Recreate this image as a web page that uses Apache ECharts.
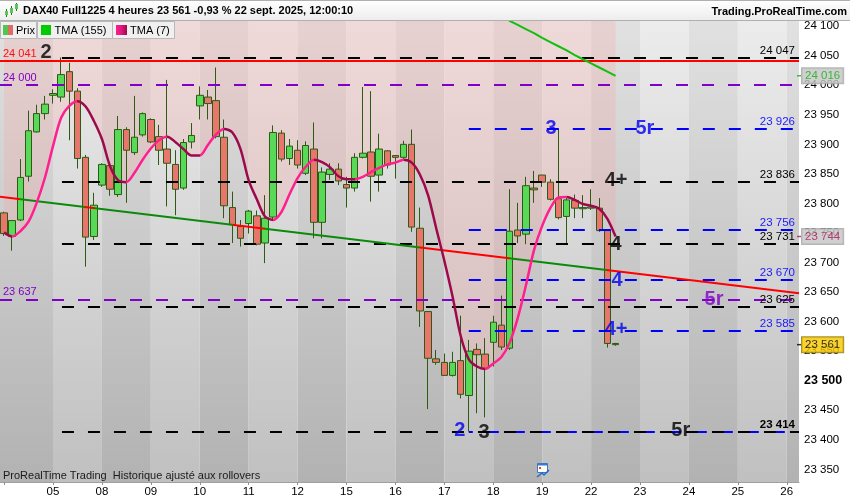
<!DOCTYPE html>
<html><head><meta charset="utf-8">
<script src="https://cdn.jsdelivr.net/npm/echarts@6/dist/echarts.min.js"></script>
<style>html,body{margin:0;padding:0;background:#fff}#c{width:850px;height:500px}</style>
</head><body><div id="c"></div><script>
// ---------- data ----------
const days = ['04','05','08','09','10','11','12','15','16','17','18','19','22','23','24','25','26'];
const hours = ['00','04','08','12','16','20'];
const slotCount = 98;
const opens  = [23784,23744,23772,23846,23921,23952,23983,23980,24023,23990,23878,23744,23831,23864,23815,23925,23886,23916,23942,23913,23892,23866,23826,23904,23965,23980,23974,23912,23793,23761,23766,23779,23733,23777,23919,23876,23890,23851,23892,23768,23849,23858,23832,23826,23878,23887,23848,23889,23881,23878,23900,23758,23617,23537,23531,23509,23534,23475,23553,23545,23565,23594,23555,23755,23748,23826,23848,23836,23808,23778,23805,23793,23792,23792,23754,23563];
const closes = [23749,23771,23844,23923,23952,23968,23986,24018,23990,23876,23743,23797,23866,23824,23925,23890,23912,23952,23904,23890,23868,23824,23903,23915,23983,23969,23913,23796,23764,23741,23787,23731,23775,23920,23875,23897,23865,23898,23768,23853,23858,23838,23826,23878,23885,23846,23892,23865,23878,23900,23760,23618,23538,23531,23509,23531,23477,23550,23544,23521,23599,23557,23753,23745,23830,23823,23836,23807,23776,23806,23792,23791,23794,23754,23563,23561];
const lows   = [23745,23720,23770,23837,23920,23942,23969,23972,23907,23859,23693,23738,23828,23813,23811,23801,23882,23913,23902,23865,23795,23780,23823,23893,23942,23942,23910,23775,23733,23727,23749,23729,23699,23772,23871,23865,23859,23848,23741,23741,23840,23831,23793,23820,23876,23803,23820,23859,23842,23874,23752,23591,23452,23527,23508,23507,23470,23414,23445,23438,23524,23552,23552,23733,23731,23801,23828,23805,23773,23731,23775,23775,23789,23752,23556,23559];
const highs  = [23786,23772,23875,23957,23967,23982,23993,24047,24038,23995,23882,23818,23868,23868,23948,23929,23982,23954,23944,23933,24009,23890,23909,23936,23998,23992,24030,23942,23820,23772,23789,23788,23814,23932,23924,23909,23907,23905,23937,23861,23868,23868,23845,23885,23997,23990,23918,23890,23882,23906,23925,23793,23618,23552,23546,23549,23610,23569,23563,23572,23610,23644,23824,23801,23845,23855,23848,23841,23926,23811,23815,23814,23824,23809,23755,23564];
const tma7   = [23751,23744,23753,23769,23801,23843,23897,23945,23965,23973,23964,23940,23909,23863,23839,23836,23852,23874,23893,23907,23913,23904,23892,23881,23881,23899,23917,23926,23920,23892,23839,23807,23778,23772,23785,23815,23843,23862,23874,23870,23861,23846,23841,23841,23845,23853,23860,23866,23869,23874,23869,23849,23814,23758,23703,23643,23576,23536,23524,23520,23529,23540,23564,23606,23661,23721,23762,23792,23810,23811,23806,23799,23796,23791,23774,23744];
const tma155 = Array(61).fill(null).concat([24125,24109,24102,24095,24088,24080,24073,24066,24059,24051,24044,24037,24030,24023,24016]);
// drawn trend line (two anchor points in slot units)
const trendLine = [[-0.5, 23811.4], [97.5, 23647.9]];
// slot ranges where the trend line is drawn red (price below it)
const trendRedRanges = [[-1, 1.95], [9.9, 11.15], [28.1, 32], [51, 62.05], [73.95, 99]];
// slot ranges where TMA(7) is falling
const tmaFallRanges = [[-1, 1], [9, 15], [20, 23.5], [27, 33], [38, 43], [49, 59], [69, 99]];
// horizontal levels
const levels = [
  {v:23414, kind:'blue',   from:57,   side:'none'},
  {v:24047, kind:'black',  from:7.1,  side:'right'},
  {v:24041, kind:'red',    from:-0.5, side:'left'},
  {v:24000, kind:'purple', from:-0.5, side:'left'},
  {v:23926, kind:'blue',   from:57,   side:'right'},
  {v:23836, kind:'black',  from:7.1,  side:'right'},
  {v:23756, kind:'blue',   from:57,   side:'right'},
  {v:23731, kind:'black',  from:7.1,  side:'right'},
  {v:23670, kind:'blue',   from:57,   side:'right'},
  {v:23637, kind:'purple', from:-0.5, side:'left'},
  {v:23625, kind:'black',  from:7.1,  side:'right'},
  {v:23585, kind:'blue',   from:57,   side:'right'},
  {v:23414, kind:'black',  from:7.1,  side:'right', bold:true}
];
const waveLabels = [
  {x:5.14, v:24055, t:'2', kind:'black'},
  {x:67.08, v:23926, t:'3', kind:'blue'},
  {x:78.6, v:23926, t:'5r', kind:'blue'},
  {x:75.06, v:23838, t:'4+', kind:'black'},
  {x:75.06, v:23731, t:'4', kind:'black'},
  {x:75.18, v:23669, t:'4', kind:'blue'},
  {x:87.07, v:23638, t:'5r', kind:'purple'},
  {x:75.06, v:23587, t:'4+', kind:'blue'},
  {x:55.9, v:23416, t:'2', kind:'blue'},
  {x:58.86, v:23412, t:'3', kind:'black'},
  {x:83.0, v:23416, t:'5r', kind:'black'}
];
const yTicks = [23350,23400,23450,23500,23550,23600,23650,23700,23750,23800,23850,23900,23950,24000,24050,24100];

// ---------- build ----------
const FONT = 'Liberation Sans, Arial, sans-serif';
const fmt = v => String(Math.round(v)).replace(/\B(?=(\d{3})+(?!\d))/g, ' ');
const categories = [];
days.forEach(d => hours.forEach(h => categories.push(d + ' ' + h + ':00')));
categories.length = slotCount;
const candleData = opens.map((o, i) => [o, closes[i], lows[i], highs[i]]);
const last = opens.length - 1;

const COLORS = {black:'#000000', blue:'#0000ff', purple:'#8000c8', red:'#ff0000'};
const LABEL_COLORS = {black:'#000000', blue:'#0000f0', purple:'#8000c8', red:'#ff1010'};
const vGrad = (a, b) => ({type:'linear', x:0, y:0, x2:0, y2:1, colorStops:[{offset:0, color:a},{offset:1, color:b}]});
const darkBand = vGrad('#e1e1e1', '#b2b2b2');
const lightBand = vGrad('#ececec', '#c0c0c0');

const bandAreas = days.map((d, i) => {
  const start = i === 0 ? -0.5 : i * 6;
  const end = i === days.length - 1 ? slotCount - 0.5 : i * 6 + 6;
  return [{xAxis:start, itemStyle:{color: i % 2 ? lightBand : darkBand}}, {xAxis:end}];
});

const levelLines = levels.map(L => {
  const first = {
    coord:[L.from, L.v],
    lineStyle:{color:COLORS[L.kind], width:2, type: L.kind === 'red' ? 'solid' : [12, 14], dashOffset: L.kind === 'blue' && L.v === 23414 ? 8 : 0},
    label:{show: L.side !== 'none'}
  };
  if (L.side === 'right') {
    Object.assign(first.label, {position:'insideEndTop', formatter: fmt(L.v), color: L.kind === 'blue' ? '#1a1aff' : LABEL_COLORS[L.kind],
      fontSize:11.5, fontFamily:FONT, fontWeight: L.bold ? 'bold' : 'normal', distance:[4, 1]});
  } else if (L.side === 'left') {
    Object.assign(first.label, {position:'insideStartTop', formatter: fmt(L.v), color: LABEL_COLORS[L.kind],
      fontSize:11, fontFamily:FONT, distance:[3, 2]});
  }
  return [first, {coord:[slotCount - 0.5, L.v]}];
});

const piecesFrom = (ranges, inColor, outColor) => {
  const p = [];
  let cur = -1;
  ranges.forEach(r => {
    if (r[0] > cur) p.push({gte:cur, lt:r[0], color:outColor});
    p.push({gte:r[0], lt:r[1], color:inColor});
    cur = r[1];
  });
  p.push({gte:cur, lt:1000, color:outColor});
  return p;
};

// last values shown in boxes on the price scale
const lastValues = [
  {v: tma155[last], color:'#10b010', bg:'#c4c4c4', border:'#a4a4a4'},
  {v: tma7[last],   color:'#b0145a', bg:'#c4c4c4', border:'#a4a4a4'},
  {v: closes[last], color:'#000000', bg:'#f7c800', border:'#8a7400'}
];

const option = {
  animation:false,
  backgroundColor:'#ffffff',
  grid:{left:0, right:51, top:21, bottom:18, containLabel:false},
  xAxis:[{
    type:'category', data:categories, boundaryGap:true,
    axisLine:{show:true, lineStyle:{color:'#a0a0a0'}},
    axisTick:{show:true, alignWithLabel:true, interval:(i)=> i % 6 === 0, length:3, lineStyle:{color:'#909090'}},
    axisLabel:{interval:(i)=> i > 0 && i % 6 === 0, formatter:(v)=> v.slice(0,2), color:'#000', fontSize:11.5, fontFamily:FONT, margin:4},
    splitLine:{show:false}
  },{
    type:'value', min:-0.5, max:slotCount - 0.5, show:false
  }],
  yAxis:{
    type:'value', position:'right', min:23328.6, max:24108.7,
    axisLine:{show:true, lineStyle:{color:'#a0a0a0'}},
    axisTick:{show:true, length:4, customValues:yTicks, lineStyle:{color:'#808080'}},
    axisLabel:{customValues:yTicks, color:'#000', fontSize:11.5, fontFamily:FONT, margin:5,
      formatter:(v)=> v === 23500 ? '{b|' + fmt(v) + '}' : fmt(v),
      rich:{b:{fontWeight:'bold', fontSize:12.5, color:'#000', fontFamily:FONT}}},
    splitLine:{show:false}
  },
  visualMap:[
    {type:'piecewise', show:false, seriesIndex:3, dimension:0, pieces: piecesFrom(trendRedRanges, '#ff0000', '#0a8a0a')},
    {type:'piecewise', show:false, seriesIndex:4, dimension:0, pieces: piecesFrom(tmaFallRanges, '#9c0a4c', '#ff1f8e')}
  ],
  series:[
    { // 0: helper for background bands and level lines
      type:'line', xAxisIndex:1, data:[[-5, 0]], symbol:'none', lineStyle:{width:0}, z:1, silent:true,
      markArea:{silent:true, z:1, data:bandAreas},
      markLine:{silent:true, z:6, symbol:['none','none'], data:levelLines}
    },
    { // 1: TMA(7) area (pink fill above the curve)
      type:'line', data:tma7, symbol:'none', smooth:0.3, z:2, silent:true,
      lineStyle:{width:0, opacity:0},
      areaStyle:{origin:'end', color:'rgba(255,150,150,0.32)'}
    },
    { // 2: candles
      type:'candlestick', name:'Prix', data:candleData, barWidth:7, z:3,
      itemStyle:{color:'#58da58', color0:'#e8766c', borderColor:'#2e5a14', borderColor0:'#2e5a14', borderWidth:1}
    },
    { // 3: trend line
      type:'line', xAxisIndex:1, data:trendLine, symbol:'none', z:6, silent:true,
      lineStyle:{width:2}
    },
    { // 4: TMA(7) line
      type:'line', name:'TMA (7)', data:tma7, symbol:'none', smooth:0.3, z:7,
      lineStyle:{width:2.5}
    },
    { // 5: TMA(155)
      type:'line', name:'TMA (155)', data:tma155, symbol:'none', z:7, connectNulls:false,
      lineStyle:{width:2, color:'#10c010'}, itemStyle:{color:'#10c010'}
    },
    { // 6: wave labels
      type:'scatter', xAxisIndex:1, symbol:'circle', symbolSize:1, z:9, silent:true,
      itemStyle:{color:'rgba(0,0,0,0)'},
      data: waveLabels.map(w => ({value:[w.x, w.v], label:{show:true, position:'inside', formatter:w.t,
        color: LABEL_COLORS[w.kind], fontSize:20, fontWeight:'bold', fontFamily:FONT}}))
    },
    { // 7: last-value boxes on the price scale (anchored at the right edge of the plot)
      type:'scatter', xAxisIndex:1, symbol:'rect', symbolSize:[4, 1.5], z:9, silent:true, clip:false,
      data: lastValues.map(L => ({
        value:[slotCount - 0.5, L.v],
        itemStyle:{color:L.color},
        label:{show:true, position:'right', distance:1, formatter: fmt(L.v), color:L.color, backgroundColor:L.bg,
          borderColor:L.border, borderWidth:1, padding:[2,3,1,3], fontSize:11.5, fontFamily:FONT}
      }))
    }
  ],
  graphic:[
    {type:'rect', z:100, shape:{x:0, y:0, width:850, height:20}, style:{fill: vGrad('#ffffff', '#ededed'), stroke:null}},
    {type:'line', z:101, shape:{x1:0, y1:0.5, x2:850, y2:0.5}, style:{stroke:'#b0b0b0', lineWidth:1}},
    {type:'line', z:101, shape:{x1:0, y1:20.5, x2:850, y2:20.5}, style:{stroke:'#b0b0b0', lineWidth:1}},
    // header icon
    {type:'line', z:101, shape:{x1:6.5, y1:9, x2:6.5, y2:17}, style:{stroke:'#3a6a1a', lineWidth:1}},
    {type:'rect', z:102, shape:{x:5, y:11, width:3, height:4}, style:{fill:'#56c856'}},
    {type:'line', z:101, shape:{x1:11.5, y1:6, x2:11.5, y2:15}, style:{stroke:'#3a6a1a', lineWidth:1}},
    {type:'rect', z:102, shape:{x:10, y:8, width:3, height:5}, style:{fill:'#56c856'}},
    {type:'line', z:101, shape:{x1:16.5, y1:3, x2:16.5, y2:11}, style:{stroke:'#3a6a1a', lineWidth:1}},
    {type:'rect', z:102, shape:{x:15, y:4, width:3, height:5}, style:{fill:'#56c856'}},
    {type:'text', z:102, x:23, y:11, style:{text:'DAX40 Full1225 4 heures 23 561 -0,93 % 22 sept. 2025, 12:00:10', fill:'#000',
      font:'bold 11px ' + FONT, textVerticalAlign:'middle', textAlign:'left'}},
    {type:'text', z:102, x:847, y:12, style:{text:'Trading.ProRealTime.com', fill:'#000',
      font:'bold 11px ' + FONT, textVerticalAlign:'middle', textAlign:'right'}},
    // legend boxes
    {type:'rect', z:100, shape:{x:0.5, y:21.5, width:36, height:17}, style:{fill:'#f0f0f0', stroke:'#b8b8b8'}},
    {type:'rect', z:101, shape:{x:3, y:25, width:5, height:10}, style:{fill:'#50c850'}},
    {type:'rect', z:101, shape:{x:8, y:25, width:5, height:10}, style:{fill:'#e06a66'}},
    {type:'text', z:101, x:16, y:30.5, style:{text:'Prix', fill:'#000', font:'11px ' + FONT, textVerticalAlign:'middle'}},
    {type:'rect', z:100, shape:{x:37.5, y:21.5, width:75, height:17}, style:{fill:'#f0f0f0', stroke:'#b8b8b8'}},
    {type:'rect', z:101, shape:{x:41, y:25, width:10, height:10}, style:{fill:'#00cc00'}},
    {type:'text', z:101, x:54.5, y:30.5, style:{text:'TMA (155)', fill:'#000', font:'11px ' + FONT, textVerticalAlign:'middle'}},
    {type:'rect', z:100, shape:{x:112.5, y:21.5, width:62, height:17}, style:{fill:'#f0f0f0', stroke:'#b8b8b8'}},
    {type:'rect', z:101, shape:{x:116, y:25, width:11, height:10}, style:{fill:{type:'linear', x:0, y:0, x2:1, y2:0,
      colorStops:[{offset:0, color:'#ff1f8e'},{offset:0.5, color:'#e0187a'},{offset:1, color:'#9c0a4c'}]}}},
    {type:'text', z:101, x:130, y:30.5, style:{text:'TMA (7)', fill:'#000', font:'11px ' + FONT, textVerticalAlign:'middle'}},
    // footer
    {type:'text', z:100, x:3, y:476, style:{text:'ProRealTime Trading  Historique ajusté aux rollovers', fill:'#1a1a1a',
      font:'11px ' + FONT, textVerticalAlign:'middle'}},
    // calendar icon
    {type:'rect', z:100, shape:{x:537.5, y:463.5, width:10, height:9}, style:{fill:'#ffffff', stroke:'#3a78c8', lineWidth:1}},
    {type:'rect', z:101, shape:{x:537.5, y:463.5, width:10, height:2}, style:{fill:'#3a78c8'}},
    {type:'rect', z:101, shape:{x:539, y:467, width:2, height:2}, style:{fill:'#e04040'}},
    {type:'polyline', z:101, shape:{points:[[537,477],[542,473],[544,475],[549,470]]}, style:{stroke:'#2a68c8', lineWidth:1.5, fill:null}}
  ]
};
const chart = echarts.init(document.getElementById('c'), null, {width:850, height:500});
chart.setOption(option);
</script></body></html>
